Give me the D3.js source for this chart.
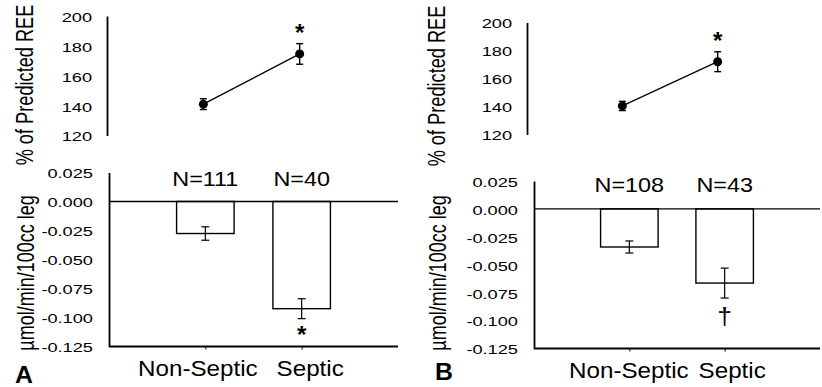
<!DOCTYPE html>
<html>
<head>
<meta charset="utf-8">
<script src="https://cdn.jsdelivr.net/npm/d3@7"></script>
<style>
  body { margin: 0; background: #fff; }
  svg { display: block; font-family: "Liberation Sans", Arial, sans-serif; }
  .axis path { stroke: #000; stroke-width: 1.8; }
  .axis line { stroke: #000; }
  .axis text { fill: #000; }
</style>
</head>
<body>
<div id="chart"></div>
<script>
// --- data ---
const categories = ["Non-Septic", "Septic"];
const reeTicks = [120, 140, 160, 180, 200];
const fluxTicks = [-0.125, -0.1, -0.075, -0.05, -0.025, 0, 0.025];

// panel A
const reeA = [141.0, 174.6];
const reeErrA = [3.6, 6.9];
const fluxA = [-0.0276, -0.0924];
const fluxErrA = [0.0058, 0.0086];
const countA = ["N=111", "N=40"];
const reeSigA = ["", "*"];
const fluxSigA = ["", "*"];

// panel B
const reeB = [140.4, 172.0];
const reeErrB = [3.3, 7.1];
const fluxB = [-0.0341, -0.0664];
const fluxErrB = [0.0054, 0.0134];
const countB = ["N=108", "N=43"];
const reeSigB = ["", "*"];
const fluxSigB = ["", "\u2020"];

const W = 822, H = 387;
const svg = d3.select("#chart").append("svg").attr("width", W).attr("height", H);

// stretched text (the scan is wider than tall)
function label(g, x, y, str, size, sx, anchor, weight) {
  return g.append("text")
    .attr("transform", `translate(${x},${y}) scale(${sx},1)`)
    .attr("text-anchor", anchor || "middle")
    .attr("font-size", size)
    .attr("font-weight", weight || "normal")
    .text(str);
}

function drawPanel(p) {
  const g = svg.append("g");

  // ---------- top: % of predicted REE ----------
  const xt = d3.scalePoint().domain(categories).range([p.topX0, p.topX1]).padding(1);
  const yt = d3.scaleLinear().domain([120, 200]).range([p.topY1, p.topY0]);

  const axT = g.append("g").attr("class", "axis")
    .attr("transform", `translate(${p.topX0},0)`)
    .call(d3.axisLeft(yt).tickValues(reeTicks).tickSize(0).tickPadding(0).tickFormat(d3.format("d")));
  axT.selectAll("text").attr("font-size", 13.5).attr("x", -15 / 1.35)
    .attr("transform", "scale(1.35,1)").attr("dy", "0.4em");

  const pts = categories.map((c, i) => ({ x: xt(c), v: p.ree[i], e: p.reeErr[i], s: p.reeSig[i] }));
  g.append("path")
    .attr("d", d3.line().x(d => d.x).y(d => yt(d.v))(pts))
    .attr("fill", "none").attr("stroke", "#000").attr("stroke-width", 1.3);

  pts.forEach(d => {
    g.append("line").attr("x1", d.x).attr("x2", d.x)
      .attr("y1", yt(d.v - d.e)).attr("y2", yt(d.v + d.e))
      .attr("stroke", "#000").attr("stroke-width", 1.4);
    [d.v - d.e, d.v + d.e].forEach(v => {
      g.append("line").attr("x1", d.x - 3.5).attr("x2", d.x + 3.5)
        .attr("y1", yt(v)).attr("y2", yt(v)).attr("stroke", "#000").attr("stroke-width", 1.4);
    });
    g.append("circle").attr("cx", d.x).attr("cy", yt(d.v)).attr("r", 4.5).attr("fill", "#000");
    if (d.s) label(g, d.x, yt(d.v + d.e) - 3, d.s, 23, 1.05, "middle", "bold");
  });

  label(g, 0, 0, "% of Predicted REE", 18.2, 1)
    .attr("transform", `translate(${p.labX},${p.topLabY}) rotate(-90) scale(1,1.3)`);

  // ---------- bottom: flux bars ----------
  const xb = d3.scalePoint().domain(categories).range([p.botX0, p.botX1]).padding(1);
  const yb = d3.scaleLinear().domain([-0.125, 0.025]).range([p.botY1, p.botY0]);
  const barW = 57.5;

  const axL = g.append("g").attr("class", "axis")
    .attr("transform", `translate(${p.botX0},0)`)
    .call(d3.axisLeft(yb).tickValues(fluxTicks).tickSize(0).tickPadding(0).tickFormat(d => d.toFixed(3)));
  axL.selectAll("text").attr("font-size", 13.5).attr("x", -16 / 1.35)
    .attr("transform", "scale(1.35,1)").attr("dy", "0.4em");

  const axB = g.append("g").attr("class", "axis")
    .attr("transform", `translate(0,${p.botY1})`)
    .call(d3.axisBottom(xb).tickSize(3).tickSizeOuter(0).tickPadding(0));
  axB.select(".domain").attr("d", `M${p.botX0},0H${p.botX1}`);
  axB.selectAll("text").attr("font-size", 22).attr("dy", 0).attr("y", 0)
    .attr("transform", (d, i) => `translate(${p.catShift[i]},29) scale(1.1,1)`);

  // zero line
  g.append("line").attr("x1", p.botX0).attr("x2", p.botX1)
    .attr("y1", yb(0)).attr("y2", yb(0)).attr("stroke", "#000").attr("stroke-width", 1.3);

  categories.forEach((c, i) => {
    const cx = xb(c), v = p.flux[i], e = p.fluxErr[i];
    g.append("rect").attr("x", cx - barW / 2).attr("width", barW)
      .attr("y", yb(0)).attr("height", yb(v) - yb(0))
      .attr("fill", "none").attr("stroke", "#000").attr("stroke-width", 1.4);
    g.append("line").attr("x1", cx).attr("x2", cx)
      .attr("y1", yb(v - e)).attr("y2", yb(v + e)).attr("stroke", "#000").attr("stroke-width", 1.2);
    [v - e, v + e].forEach(t => {
      g.append("line").attr("x1", cx - 4).attr("x2", cx + 4)
        .attr("y1", yb(t)).attr("y2", yb(t)).attr("stroke", "#000").attr("stroke-width", 1.2);
    });
    label(g, cx, p.countY, p.count[i], 19.5, 1.2);
    if (p.fluxSig[i] === "*") label(g, cx, yb(v - e) + 24, "*", 23, 1.05, "middle", "bold");
    else if (p.fluxSig[i]) label(g, cx, yb(v - e) + 27, p.fluxSig[i], 24, 1.1);
  });

  label(g, 0, 0, "\u00b5mol/min/100cc leg", 18, 1)
    .attr("transform", `translate(${p.labX + 1},${p.botLabY}) rotate(-90) scale(1,1.3)`);

  label(g, p.letterX, p.letterY, p.letter, 23, 1.08, "start", "bold");
}

drawPanel({
  ree: reeA, reeErr: reeErrA, reeSig: reeSigA,
  flux: fluxA, fluxErr: fluxErrA, fluxSig: fluxSigA, count: countA,
  topX0: 107, topX1: 396, topY0: 16, topY1: 135.5,
  botX0: 109, botX1: 398, botY0: 172.5, botY1: 346.5,
  catShift: [-8, 8], countY: 186,
  labX: 33, topLabY: 85, botLabY: 273,
  letter: "A", letterX: 15, letterY: 383
});

drawPanel({
  ree: reeB, reeErr: reeErrB, reeSig: reeSigB,
  flux: fluxB, fluxErr: fluxErrB, fluxSig: fluxSigB, count: countB,
  topX0: 527, topX1: 813, topY0: 22.5, topY1: 134.5,
  botX0: 534, botX1: 820, botY0: 181, botY1: 348.5,
  catShift: [-1, 7], countY: 192,
  labX: 445, topLabY: 86, botLabY: 273,
  letter: "B", letterX: 435, letterY: 380
});
</script>
</body>
</html>
